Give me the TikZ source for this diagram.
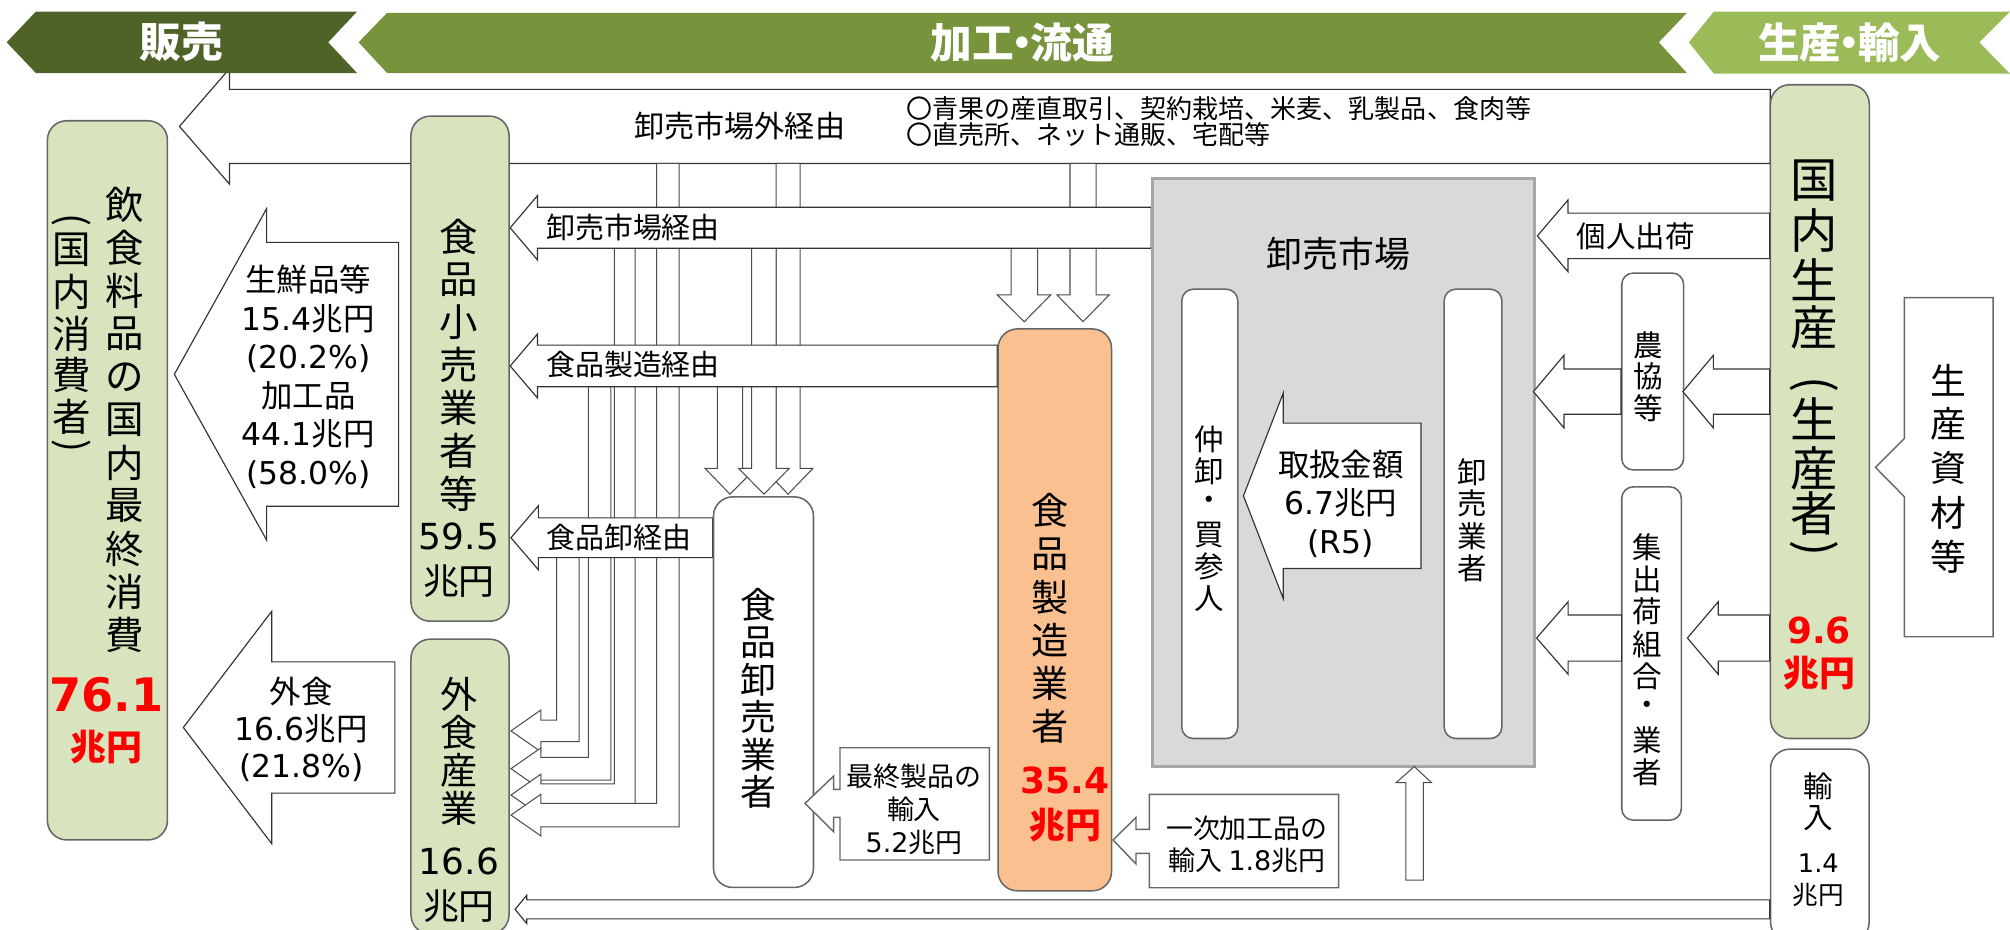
\documentclass[tikz,border=0pt]{standalone}
\usepackage{fontspec}
\setmainfont{Noto Sans CJK JP}
\newfontfamily\latf{DejaVu Sans}
\newcommand\latn[1]{{\latf #1}}
\newcommand\fsz[2]{\fontsize{#1}{#2}\selectfont}
\newcommand\ndot{\kern-.3em・\kern-.3em}
\definecolor{hanbai}{HTML}{4F6228}
\definecolor{kakou}{HTML}{77933C}
\definecolor{seisan}{HTML}{9BBB59}
\definecolor{boxgreen}{HTML}{D7E4BD}
\definecolor{boxorange}{HTML}{FAC090}
\definecolor{mktfill}{HTML}{D9D9D9}
\definecolor{mktline}{HTML}{A6A6A6}
\definecolor{redv}{HTML}{FF0000}
\tikzset{
  bigarrow/.style={draw=black!80, fill=white, line width=0.9pt, line join=miter},
  thinarrow/.style={draw=black!70, fill=white, line width=0.8pt, line join=miter},
  callout/.style={draw=black!60, fill=white, line width=1.1pt, line join=miter},
  gbox/.style={draw=black!60, fill=boxgreen, line width=1.2pt, rounded corners=15pt, inner sep=0pt, anchor=north west},
  obox/.style={draw=black!60, fill=boxorange, line width=1.2pt, rounded corners=15pt, inner sep=0pt, anchor=north west},
  wbox/.style={draw=black!60, fill=white, line width=1.2pt, rounded corners=11pt, inner sep=0pt, anchor=north west},
  lbl/.style={inner sep=0pt},
  bannertxt/.style={inner sep=0pt, text=white, font=\bfseries\fsz{32.5}{33}},
  rednum/.style={inner sep=0pt, text=redv, font=\latf\bfseries\fsz{28}{28}},
  redyen/.style={inner sep=0pt, text=redv, font=\bfseries\fsz{28}{28}},
}
% left block arrow: [style] tx ty hx hh sh rx
\newcommand\LArr[7][]{%
  \draw[bigarrow,#1] (#7,{#3-#6}) -- (#4,{#3-#6}) -- (#4,{#3-#5}) -- (#2,#3) -- (#4,{#3+#5}) -- (#4,{#3+#6}) -- (#7,{#3+#6}) -- cycle;}
% down narrow arrow: lx rx ytop hy hl hr tipy
\newcommand\DArr[7]{%
  \draw[thinarrow] (#1,#3) -- (#1,#4) -- (#5,#4) -- ({(#1+#2)/2},#7) -- (#6,#4) -- (#2,#4) -- (#2,#3) -- cycle;}
% bent arrow: lx rx ytop yT yB hx hh tx
\newcommand\BArr[8]{%
  \draw[thinarrow] (#1,#3) -- (#1,#4) -- (#6,#4) -- (#6,{(#4+#5)/2-#7}) -- (#8,{(#4+#5)/2}) -- (#6,{(#4+#5)/2+#7}) -- (#6,#5) -- (#2,#5) -- (#2,#3) -- cycle;}
% vertical stack: name x y0 pitch font list
\newcommand\vstk[6]{%
  \foreach \ch [count=\k from 0] in {#6} {%
    \node[lbl, font=#5] (#1-\k) at (#2, {#3+\k*#4}) {\ch};}}

\begin{document}
\begin{tikzpicture}[x=1pt,y=-1pt]
\useasboundingbox (0,0) rectangle (1568,725);

% ---- market-external big arrow
\LArr{140}{98.6}{179}{45}{28.9}{1381}

% ---- narrow down arrows
\DArr{834.7}{855}{127.4}{230}{824.5}{865.3}{251}
\DArr{788.7}{809.4}{193.7}{230}{777.9}{819.7}{251}
\DArr{605.5}{624.1}{127.4}{365.4}{595.5}{634.1}{385.5}
\DArr{559.6}{579.3}{301.6}{365.4}{550}{589.5}{385.5}
\DArr{586.4}{605.5}{193.7}{365.4}{576.2}{615.7}{385.5}

% ---- bent arrows to food service
\BArr{434.3}{451.7}{434.8}{561.7}{578.6}{422}{16.3}{398.6}
\BArr{459}{476.6}{301.6}{590.8}{608.5}{422}{16.3}{398.6}
\BArr{479.3}{495.4}{193.7}{611.5}{628.9}{422}{16.3}{398.6}
\BArr{512.3}{529.7}{127.4}{626.7}{645}{422}{16.3}{398.6}

% ---- middle big arrows
\LArr{398}{177.7}{419.3}{25.1}{16}{898}
\LArr{398}{285.5}{419.3}{25}{16.25}{778}
\LArr{398.6}{419.5}{420}{25}{15.5}{556}

% ---- consumption arrows
\LArr{136}{292}{208}{129.3}{102.9}{311}
\LArr{143}{567.5}{212}{90.7}{51.2}{308}

% ---- boxes
\node[gbox, minimum width=93.6pt, minimum height=561pt] (consumer) at (36.4,93.6) {};
\node[gbox, minimum width=76.5pt, minimum height=394pt] (retail) at (320,90) {};
\node[gbox, minimum width=76.5pt, minimum height=230pt] (gaishoku) at (320,498) {};
\node[wbox, minimum width=78pt, minimum height=304.7pt, rounded corners=15pt] (oroshi) at (556,387) {};
\node[obox, minimum width=88.5pt, minimum height=438.3pt] (seizou) at (778,256) {};
\node[anchor=north west, draw=mktline, fill=mktfill, line width=2.6pt, inner sep=0pt, minimum width=298pt, minimum height=459pt] (market) at (898,137.8) {};
\node[wbox, minimum width=43.7pt, minimum height=350.5pt, rounded corners=9pt] (naka) at (921.3,225) {};
\node[wbox, minimum width=45pt, minimum height=350.5pt, rounded corners=9pt] (orgyo) at (1126,225) {};
\node[gbox, minimum width=77.1pt, minimum height=510pt] (kokunai) at (1380.5,65.5) {};
\node[wbox, minimum width=48.3pt, minimum height=153.6pt, rounded corners=9pt] (nokyo) at (1264.5,212.4) {};
\node[wbox, minimum width=46.5pt, minimum height=260pt, rounded corners=9pt] (shukka) at (1264.5,379.2) {};
\node[wbox, minimum width=76.9pt, minimum height=150pt, rounded corners=15pt] (yunyu) at (1380.6,583.8) {};

% ---- handling arrow inside market
\LArr{970}{386.8}{1001}{80}{56.7}{1108.5}

% ---- right side arrows
\LArr{1199.3}{184}{1223.2}{28}{17.75}{1380.5}
\LArr{1196.2}{305.5}{1220}{28.3}{17.65}{1264.5}
\LArr{1312.8}{305.5}{1336.6}{28.3}{17.65}{1380.5}
\LArr{1198.7}{497.7}{1223.3}{28.3}{18}{1265}
\LArr{1316.3}{497.7}{1340.4}{28.3}{18}{1380.5}

% ---- production materials callout
\draw[callout] (1485.6,232.2) -- (1554.8,232.2) -- (1554.8,496.7) -- (1485.6,496.7) -- (1485.6,387.5) -- (1463,364.6) -- (1485.6,342) -- cycle;
\coordinate (shizai) at (1520,364.6);

% ---- import callouts
\draw[callout] (896.6,619.7) -- (1044.3,619.7) -- (1044.3,692.5) -- (896.6,692.5) -- (896.6,665.7) -- (886.2,665.7) -- (886.2,674) -- (868.3,655.3) -- (886.2,637.6) -- (886.2,647) -- (896.6,647) -- cycle;
\draw[callout] (655.3,583.3) -- (771.8,583.3) -- (771.8,670.9) -- (655.3,670.9) -- (655.3,637.6) -- (650.3,637.6) -- (650.3,648.8) -- (628,626.7) -- (650.3,605.4) -- (650.3,615.8) -- (655.3,615.8) -- cycle;

% ---- up arrow below market
\draw[thinarrow] (1096.7,686.5) -- (1096.7,610.6) -- (1089,610.6) -- (1103.3,598) -- (1116.8,610.6) -- (1110.3,610.6) -- (1110.3,686.5) -- cycle;

% ---- bottom import arrow
\LArr{401.8}{709.4}{410.9}{11}{7.4}{1380.6}

% ---- banners
\fill[hanbai] (5.2,33) -- (28,9) -- (278.6,9) -- (256,33) -- (278.6,57) -- (28,57) -- cycle;
\fill[kakou] (279.7,33) -- (302,10) -- (1316,10) -- (1294,33) -- (1316,57) -- (302,57) -- cycle;
\fill[seisan] (1317.5,33) -- (1337,9) -- (1568,9) -- (1544,33) -- (1568,57.5) -- (1337,57.5) -- cycle;
\node[bannertxt] (b-hanbai) at (141.6,33) {販売};
\node[bannertxt] (b-kakou) at (797.7,33) {加工\ndot 流通};
\node[bannertxt] (b-seisan) at (1443,33) {生産\ndot 輸入};

% ---- texts
\node[lbl, anchor=west, font=\fsz{23.5}{24}] (t-gai) at (494.6,98) {卸売市場外経由};
\node[lbl, anchor=west, font=\fsz{20.3}{21}] (t-ex1) at (707,84.5) {〇青果の産直取引、契約栽培、米麦、乳製品、食肉等};
\node[lbl, anchor=west, font=\fsz{20.3}{21}] (t-ex2) at (707,105.3) {〇直売所、ネット通販、宅配等};
\node[lbl, anchor=west, font=\fsz{22.6}{23}] (t-ichiba) at (425.8,177.6) {卸売市場経由};
\node[lbl, anchor=west, font=\fsz{22.6}{23}] (t-seizo) at (425.8,284.7) {食品製造経由};
\node[lbl, anchor=west, font=\fsz{22.6}{23}] (t-oroshi) at (426,419.5) {食品卸経由};

\node[lbl, align=center, font=\fsz{24.5}{30}] (t-seisen) at (240.5,294) {生鮮品等\\\latn{15.4}兆円\\\latn{(20.2\%)}\\加工品\\\latn{44.1}兆円\\\latn{(58.0\%)}};
\node[lbl, align=center, font=\fsz{24.5}{29.2}] (t-gaishoku) at (235,569) {外食\\\latn{16.6}兆円\\\latn{(21.8\%)}};
\node[lbl, align=center, font=\fsz{24.5}{30}] (t-toriatsu) at (1046,393) {取扱金額\\\latn{6.7}兆円\\\latn{(R5)}};
\node[lbl, font=\fsz{23}{23}] (t-kojin) at (1276,184) {個人出荷};
\node[lbl, align=center, font=\fsz{21}{25.6}] (t-saishu) at (713,631.5) {最終製品の\\輸入\\\latn{5.2}兆円};
\node[lbl, align=center, font=\fsz{21}{25}] (t-ichiji) at (972.7,659) {一次加工品の\\輸入 \latn{1.8}兆円};
\node[lbl, font=\fsz{28}{28}] (t-market) at (1044,198) {卸売市場};

% vertical labels
\vstk{c1}{97.5}{160}{33.5}{\fsz{30}{30}}{飲,食,料,品,の,国,内,最,終,消,費}
\vstk{c2}{56}{195}{32.6}{\fsz{30}{30}}{国,内,消,費,者}
\node[lbl, rotate=-90, font=\fsz{30}{30}] (c2-open) at (56,172) {(};
\node[lbl, rotate=-90, font=\fsz{30}{30}] (c2-close) at (56,348) {)};
\node[rednum, font=\latf\bfseries\fsz{36}{36}] (c-num) at (83,542) {76.1};
\node[redyen] (c-yen) at (83,583) {兆円};

\vstk{r}{358}{185}{33.3}{\fsz{30}{30}}{食,品,小,売,業,者,等}
\node[lbl, font=\latf\fsz{28}{28}] (r-num) at (358,418.6) {59.5};
\node[lbl, font=\fsz{28}{28}] (r-yen) at (358,453.3) {兆円};

\vstk{g}{358}{541.5}{29.7}{\fsz{29}{29}}{外,食,産,業}
\node[lbl, font=\latf\fsz{28}{28}] (g-num) at (358,672) {16.6};
\node[lbl, font=\fsz{28}{28}] (g-yen) at (358,707) {兆円};

\vstk{o}{591.5}{472}{29.2}{\fsz{28}{28}}{食,品,卸,売,業,者}
\vstk{s}{819}{398.4}{33.7}{\fsz{29}{29}}{食,品,製,造,業,者}
\node[rednum] (s-num) at (831,609) {35.4};
\node[redyen] (s-yen) at (831,643.6) {兆円};

\vstk{n}{943.2}{343}{24.8}{\fsz{23}{23}}{仲,卸,・,買,参,人}
\vstk{w}{1148.5}{368}{25}{\fsz{23}{23}}{卸,売,業,者}

\foreach \ch/\yy [count=\k] in {国/141.2,内/179.6,生/218.2,産/255.5,生/326.3,産/365.3,者/400.4} {
  \node[lbl, font=\fsz{37}{37}] (k-\k) at (1415,\yy) {\ch};}
\node[lbl, rotate=-90, font=\fsz{37}{37}] (k-open) at (1415,300) {(};
\node[lbl, rotate=-90, font=\fsz{37}{37}] (k-close) at (1415,428) {)};
\node[rednum] (k-num) at (1419,491.5) {9.6};
\node[redyen] (k-yen) at (1419,525.3) {兆円};

\vstk{m}{1520}{296.4}{34.5}{\fsz{28}{28}}{生,産,資,材,等}
\vstk{nk}{1286}{269}{24.8}{\fsz{23}{23}}{農,協,等}
\vstk{sh}{1285}{427}{25.1}{\fsz{23}{23}}{集,出,荷,組,合,・,業,者}
\vstk{y}{1418.5}{613.7}{24.7}{\fsz{23}{23}}{輸,入}
\node[lbl, font=\latf\fsz{20}{20}] (y-num) at (1418.5,673.5) {1.4};
\node[lbl, font=\fsz{20}{20}] (y-yen) at (1418.5,698.2) {兆円};
\end{tikzpicture}
\end{document}
